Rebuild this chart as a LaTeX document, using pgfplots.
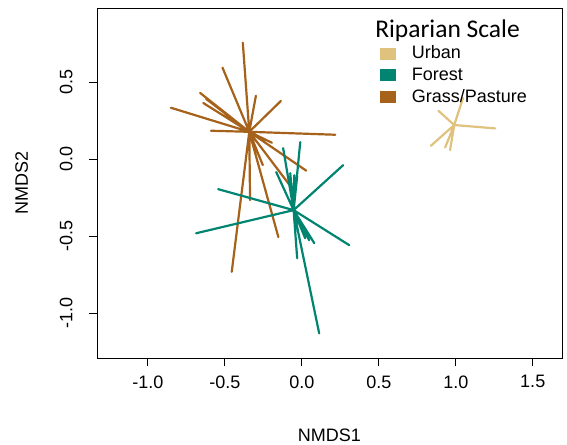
\documentclass[border=0pt]{standalone}
\usepackage{pgfplots}
\pgfplotsset{compat=1.18}
\usepackage{fontspec}
\setmainfont{Liberation Sans}
\newfontfamily\calibri{Carlito}
\definecolor{urban}{HTML}{DFC27D}
\definecolor{forest}{HTML}{018571}
\definecolor{grass}{HTML}{A6611A}

\begin{document}
\begin{tikzpicture}
\begin{axis}[
    scale only axis, width=465pt, height=350pt,
    xmin=-1.33, xmax=1.69, ymin=-1.29, ymax=0.98,
    xtick={-1,-0.5,0,0.5,1,1.5}, ytick={-1,-0.5,0,0.5},
    xtick pos=left, ytick pos=left,
    tick align=outside, major tick length=8pt,
    tick style={black, line width=0.8pt},
    axis line style={black, line width=0.8pt},
    font=\fontsize{18}{21}\selectfont,
    /pgf/number format/fixed,
    /pgf/number format/fixed zerofill,
    /pgf/number format/precision=1,
    /pgf/number format/assume math mode=true,
    yticklabel style={rotate=90, anchor=south},
    xticklabel shift=6pt, yticklabel shift=13pt,
    xlabel={NMDS1}, ylabel={NMDS2},
    xlabel style={at={(rel axis cs:0.5,-0.22)}, anchor=center},
    ylabel style={at={(rel axis cs:-0.162,0.5)}, anchor=center},
    legend style={at={(rel axis cs:0.609,0.895)}, anchor=north west,
        draw=none, fill=none, inner sep=0pt, row sep=5.5pt, column sep=14pt,
        font=\fontsize{18}{20}\selectfont,
        nodes={inner xsep=2pt, inner ysep=1pt}},
    legend cell align=left,
    legend image code/.code={\fill[#1] (0pt,-5.5pt) rectangle (15pt,5.5pt);},
]
\coordinate (bl) at (rel axis cs:0,0);
\coordinate (tr) at (rel axis cs:1,1);

\addlegendimage{urban}
\addlegendimage{forest}
\addlegendimage{grass}
\legend{Urban,Forest,Grass/Pasture}

% Grass/Pasture: centroid, site, centroid, site, ...
\addplot[grass, line width=2.2pt, line cap=round, line join=round, forget plot] coordinates {
(-0.341,0.177) (-0.383,0.755) (-0.341,0.177) (-0.515,0.593)
(-0.341,0.177) (-0.298,0.411) (-0.341,0.177) (-0.136,0.377)
(-0.341,0.177) (-0.660,0.429) (-0.341,0.177) (-0.640,0.364)
(-0.341,0.177) (-0.621,0.390) (-0.341,0.177) (-0.850,0.333)
(-0.341,0.177) (-0.590,0.184) (-0.341,0.177) (0.217,0.158)
(-0.341,0.177) (-0.194,0.106) (-0.341,0.177) (-0.253,-0.039)
(-0.341,0.177) (0.029,-0.075) (-0.341,0.177) (-0.049,-0.208)
(-0.341,0.177) (-0.336,-0.266) (-0.341,0.177) (-0.152,-0.506)
(-0.341,0.177) (-0.455,-0.731) (-0.341,0.177)
};

% Forest
\addplot[forest, line width=2.2pt, line cap=round, line join=round, forget plot] coordinates {
(-0.053,-0.331) (-0.010,0.110) (-0.053,-0.331) (-0.121,0.071)
(-0.053,-0.331) (0.269,-0.039) (-0.053,-0.331) (-0.166,-0.084)
(-0.053,-0.331) (-0.075,-0.091) (-0.053,-0.331) (-0.049,-0.104)
(-0.053,-0.331) (-0.030,-0.110) (-0.053,-0.331) (-0.543,-0.195)
(-0.053,-0.331) (-0.686,-0.481) (-0.053,-0.331) (0.308,-0.558)
(-0.053,-0.331) (0.081,-0.545) (-0.053,-0.331) (0.048,-0.526)
(-0.053,-0.331) (-0.030,-0.643) (-0.053,-0.331) (0.113,-1.130)
(-0.053,-0.331) (0.022,-0.513) (-0.053,-0.331)
};

% Urban
\addplot[urban, line width=2.2pt, line cap=round, line join=round, forget plot] coordinates {
(0.990,0.221) (1.047,0.396) (0.990,0.221) (0.888,0.313)
(0.990,0.221) (1.256,0.199) (0.990,0.221) (0.838,0.086)
(0.990,0.221) (0.931,0.075) (0.990,0.221) (0.963,0.058)
(0.990,0.221)
};

\node[anchor=base west, font=\calibri\fontsize{25.5}{28}\selectfont, inner sep=0pt]
    at (rel axis cs:0.598,0.917) {Riparian Scale};
\end{axis}
\pgfresetboundingbox
\path ([shift={(-97pt,-86pt)}]bl) rectangle ([shift={(5pt,8pt)}]tr);
\end{tikzpicture}
\end{document}
